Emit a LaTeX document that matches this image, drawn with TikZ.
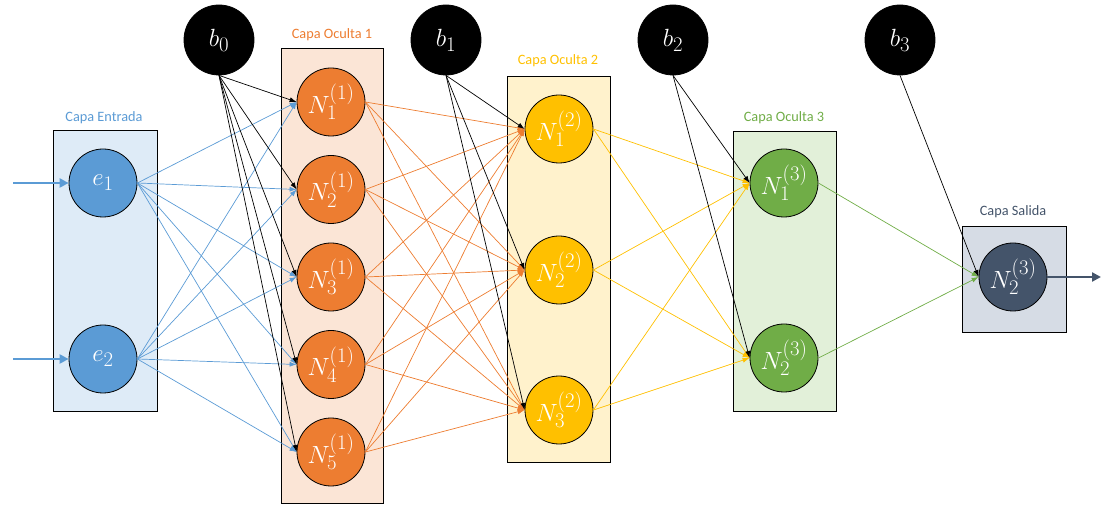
\documentclass[tikz,border=0pt]{standalone}
\usepackage{fontspec}
\newfontfamily\labelfont{Carlito}
\usetikzlibrary{arrows.meta}

% Office-style palette
\definecolor{cblue}{HTML}{5B9BD5}
\definecolor{cbluebg}{HTML}{DEEBF7}
\definecolor{corange}{HTML}{ED7D31}
\definecolor{corangebg}{HTML}{FBE5D6}
\definecolor{cgold}{HTML}{FFC000}
\definecolor{cgoldbg}{HTML}{FFF2CC}
\definecolor{cgreen}{HTML}{70AD47}
\definecolor{cgreenbg}{HTML}{E2F0D9}
\definecolor{cslate}{HTML}{44546A}
\definecolor{cslatebg}{HTML}{D6DCE5}

\begin{document}
\begin{tikzpicture}[x=1pt,y=-1pt,
  neuron/.style={circle, draw=black, line width=0.8pt, minimum size=68pt,
    inner sep=0pt, text=white, font=\fontsize{24.88}{28}\selectfont},
  bias/.style={neuron, fill=black, minimum size=70pt},
  layerbox/.style={draw=black, line width=0.9pt, inner sep=0pt},
  layertitle/.style={font=\labelfont\fontsize{14.3}{16}\selectfont},
  link/.style={line width=0.7pt, -{Latex[length=7pt,width=5pt]}},
  thickarrow/.style={line width=2.8pt, -{Triangle[length=9pt,width=9pt]}}
]
\useasboundingbox (0,0) rectangle (1106,510);

% layer frames
\node[layerbox, fill=cbluebg,   minimum width=104pt, minimum height=281pt] (boxin) at (105,270.5) {};
\node[layerbox, fill=corangebg, minimum width=102pt, minimum height=455pt] (boxh1) at (332,275.5) {};
\node[layerbox, fill=cgoldbg,   minimum width=103pt, minimum height=386pt] (boxh2) at (558.5,269) {};
\node[layerbox, fill=cgreenbg,  minimum width=103pt, minimum height=280pt] (boxh3) at (784.5,271) {};
\node[layerbox, fill=cslatebg,  minimum width=104pt, minimum height=106pt] (boxout) at (1014,279) {};

% layer titles
\node[layertitle, text=cblue]   (tin)  at (104,118) {Capa Entrada};
\node[layertitle, text=corange] (th1)  at (332,35)  {Capa Oculta 1};
\node[layertitle, text=cgold]   (th2)  at (558,61)  {Capa Oculta 2};
\node[layertitle, text=cgreen]  (th3)  at (784,118) {Capa Oculta 3};
\node[layertitle, text=cslate]  (tout) at (1013,212) {Capa Salida};

% bias units
\node[bias] (b0) at (219,40) {$b_0$};
\node[bias] (b1) at (446,40) {$b_1$};
\node[bias] (b2) at (673,40) {$b_2$};
\node[bias] (b3) at (900,40) {$b_3$};

% input layer
\node[neuron, fill=cblue] (e1) at (103,183) {$e_1$};
\node[neuron, fill=cblue] (e2) at (103,359) {$e_2$};

% hidden layer 1
\foreach \j/\y in {1/102, 2/189.5, 3/277, 4/364.5, 5/452}
  \node[neuron, fill=corange] (Na\j) at (331,\y) {$N_{\j}^{(1)}$};

% hidden layer 2
\foreach \j/\y in {1/129, 2/270, 3/410}
  \node[neuron, fill=cgold] (Nb\j) at (559,\y) {$N_{\j}^{(2)}$};

% hidden layer 3
\node[neuron, fill=cgreen] (Nc1) at (784,183) {$N_{1}^{(3)}$};
\node[neuron, fill=cgreen] (Nc2) at (784,358) {$N_{2}^{(3)}$};

% output unit
\node[neuron, fill=cslate] (out) at (1013,277) {$N_{2}^{(3)}$};

% external input / output arrows
\coordinate (x1) at (13,183);
\coordinate (x2) at (13,359);
\coordinate (y1) at (1101,277);
\draw[thickarrow, cblue] (x1) -- (e1.west);
\draw[thickarrow, cblue] (x2) -- (e2.west);
\draw[thickarrow, cslate] (out.east) -- (y1);

% weights: input -> hidden 1
\foreach \i in {1,2}
  \foreach \j in {1,...,5}
    \draw[link, cblue] (e\i.east) -- (Na\j.west);
\foreach \j in {1,...,5}
  \draw[link, black] (b0.south) -- (Na\j.west);

% weights: hidden 1 -> hidden 2
\foreach \i in {1,...,5}
  \foreach \j in {1,2,3}
    \draw[link, corange] (Na\i.east) -- (Nb\j.west);
\foreach \j in {1,2,3}
  \draw[link, black] (b1.south) -- (Nb\j.west);

% weights: hidden 2 -> hidden 3
\foreach \i in {1,2,3}
  \foreach \j in {1,2}
    \draw[link, cgold] (Nb\i.east) -- (Nc\j.west);
\foreach \j in {1,2}
  \draw[link, black] (b2.south) -- (Nc\j.west);

% weights: hidden 3 -> output
\foreach \i in {1,2}
  \draw[link, cgreen] (Nc\i.east) -- (out.west);
\draw[link, black] (b3.south) -- (out.west);
\end{tikzpicture}
\end{document}
